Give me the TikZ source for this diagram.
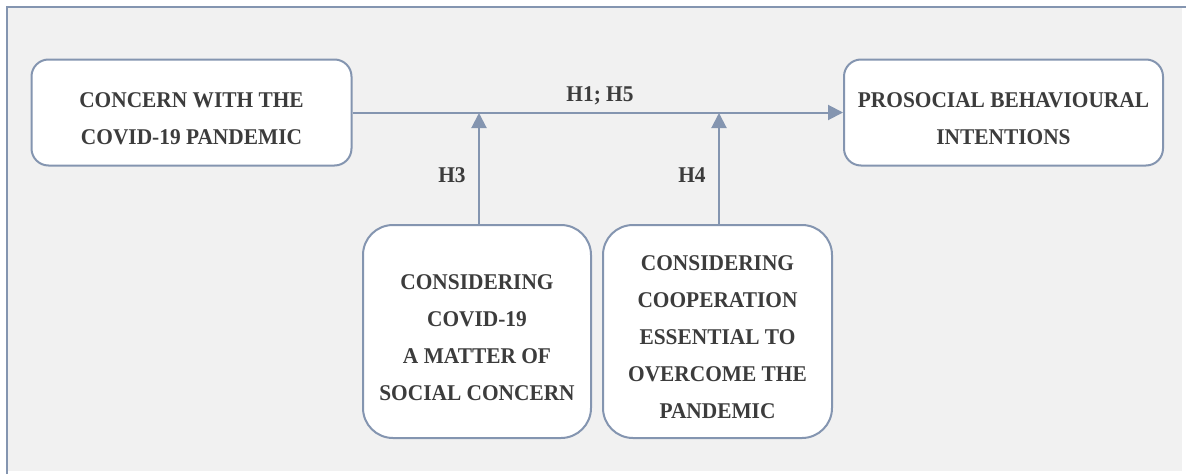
\documentclass[tikz,border=0pt]{standalone}
\usepackage{fontspec}
\setmainfont[FakeStretch=0.95]{Liberation Serif}
\usetikzlibrary{arrows.meta}
\definecolor{bg}{HTML}{F1F1F1}
\definecolor{ln}{HTML}{8495B0}
\definecolor{tx}{HTML}{3C3C3C}
\newcommand{\toppad}{\rule{0pt}{27pt}}
\tikzset{
  box/.style={draw=ln, line width=2pt, fill=white, align=center, text=tx,
    font=\fontsize{22.5}{37}\selectfont\bfseries, inner sep=0pt},
  conn/.style={draw=ln, line width=2pt, -{Triangle[length=15pt,width=15pt]}},
  lab/.style={text=tx, font=\fontsize{22.5}{24}\selectfont\bfseries, inner sep=0pt}
}
\begin{document}
\begin{tikzpicture}[x=1pt,y=-1pt]
\useasboundingbox (0,0) rectangle (1186,474);
\fill[white] (0,0) rectangle (1186,474);
\fill[bg] (7,7) rectangle (1182,471);
\draw[ln, line width=2pt] (7,474) -- (7,7) -- (1186,7);
\node[box, rounded corners=17pt, minimum width=320pt, minimum height=106pt] (A) at (191.5,112.5) {\toppad CONCERN WITH THE\\COVID-19 PANDEMIC};
\node[box, rounded corners=17pt, minimum width=319pt, minimum height=106pt] (B) at (1003.5,112.5) {\toppad PROSOCIAL BEHAVIOURAL\\INTENTIONS};
\node[box, rounded corners=30pt, minimum width=228pt, minimum height=213pt] (C) at (477,331.5) {\toppad CONSIDERING\\COVID-19\\A MATTER OF\\SOCIAL CONCERN};
\node[box, rounded corners=30pt, minimum width=229pt, minimum height=213pt] (D) at (717.5,331.5) {\toppad CONSIDERING\\COOPERATION\\ESSENTIAL TO\\OVERCOME THE\\PANDEMIC};
\coordinate (m1) at (479,113);
\coordinate (m2) at (719,113);
\draw[conn] (A.east) -- (B.west);
\draw[conn] (C.north -| m1) -- (m1);
\draw[conn] (D.north -| m2) -- (m2);
\node[lab] (h15) at (600,96) {H1; H5};
\node[lab] (h3) at (452,175) {H3};
\node[lab] (h4) at (692,175) {H4};
\end{tikzpicture}
\end{document}
